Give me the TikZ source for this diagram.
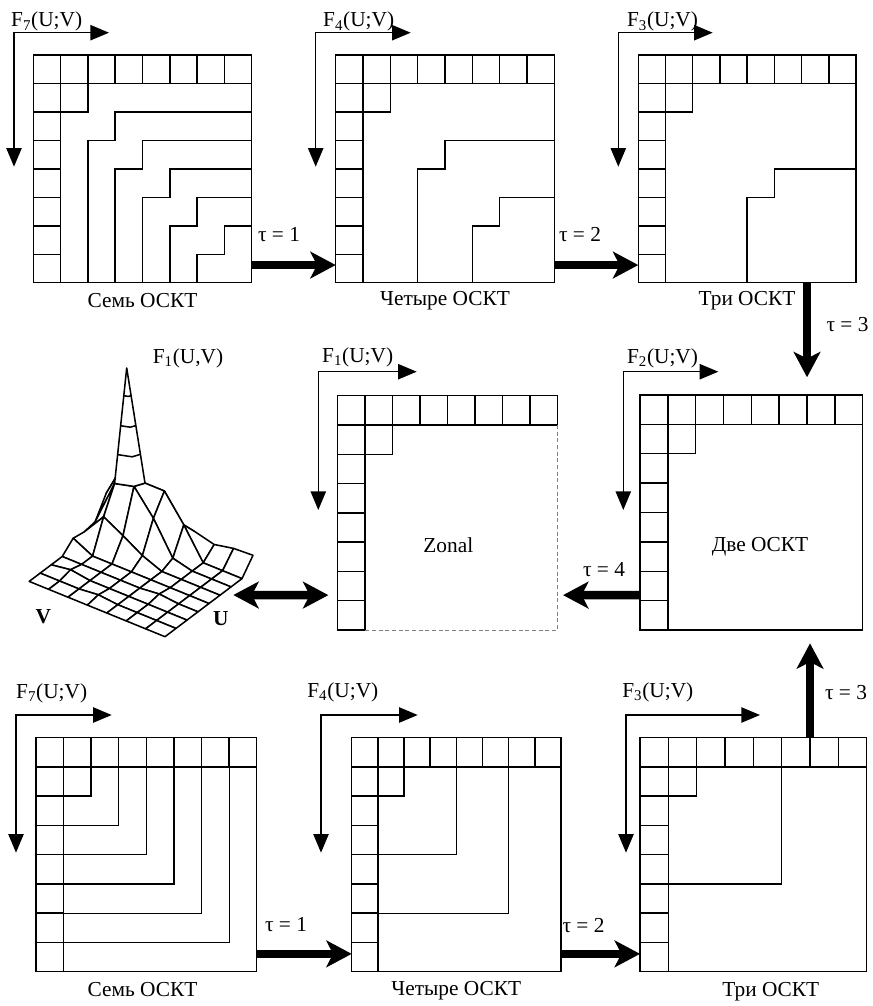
\documentclass[tikz,border=0pt]{standalone}
\usepackage{fontspec}
\setmainfont{Liberation Serif}
\usetikzlibrary{arrows.meta,calc}
\newcommand\mkgrid[5]{%
  \foreach \i in {0,...,8}{\foreach \j in {0,...,8}{%
    \coordinate (#1-\i-\j) at ({#2+\i*(#4-#2)/8},{#3+\j*(#5-#3)/8});}}%
}
\newcommand\gridbase[1]{%
  \draw[gridline] (#1-0-1) -- (#1-8-1) (#1-1-0) -- (#1-1-8) (#1-2-1) -- (#1-2-2) -- (#1-1-2);
  \foreach \k in {1,...,7}{\draw[gridline] (#1-\k-0) -- (#1-\k-1);}
  \foreach \k in {2,...,7}{\draw[gridline] (#1-0-\k) -- (#1-1-\k);}
}
\newcommand\frameall[1]{\draw[gridline] (#1-0-0) rectangle (#1-8-8);}
\newcommand\stair[2]{%
  \pgfmathtruncatemacro\ka{#2+1}\pgfmathtruncatemacro\kb{#2+2}%
  \draw[gridline] (#1-8-\ka) -- (#1-\kb-\ka) -- (#1-\kb-\kb) -- (#1-\ka-\kb) -- (#1-\ka-8);}
\newcommand\elbow[2]{%
  \pgfmathtruncatemacro\ka{#2+1}%
  \draw[thinline] (#1-\ka-1) -- (#1-\ka-\ka) -- (#1-1-\ka);}
\begin{document}
\begin{tikzpicture}[x=0.75pt,y=-0.75pt,
  gridline/.style={line width=1.1pt},
  thinline/.style={line width=0.85pt},
  zonedash/.style={line width=0.75pt, draw=black!50, dash pattern=on 3pt off 2pt},
  axisarrow/.style={line width=1.05pt, {Triangle[length=14pt,width=11.5pt]}-{Triangle[length=14pt,width=11.5pt]}},
  bigarrow/.style={line width=6.4pt, -{Stealth[length=19pt,width=20pt,inset=5pt]}},
  dblarrow/.style={line width=6.4pt, {Stealth[length=19pt,width=20pt,inset=5pt]}-{Stealth[length=19pt,width=20pt,inset=5pt]}},
  lbl/.style={font=\fontsize{16}{19}\selectfont, inner sep=0pt},
  meshline/.style={line width=1.15pt, line join=round, fill=white},
]
\useasboundingbox (0,0) rectangle (873,1006);

% ---------- grids ----------
\mkgrid{ga}{33.3}{55}{251.7}{282.7}
\mkgrid{gb}{335.7}{55}{554.3}{282.7}
\mkgrid{gc}{638.3}{55}{856}{282.7}
\mkgrid{zo}{337.7}{395.7}{557.7}{630}
\mkgrid{dv}{640}{395}{862.7}{630}
\mkgrid{gd}{36}{737.7}{256.7}{971.7}
\mkgrid{ge}{351.7}{737.7}{561}{971.7}
\mkgrid{gf}{640}{737.7}{866.7}{971.7}

\frameall{ga}\gridbase{ga}
\foreach \k in {1,...,5}{\stair{ga}{\k}}
\frameall{gb}\gridbase{gb}
\stair{gb}{2}\stair{gb}{4}
\frameall{gc}\gridbase{gc}
\stair{gc}{3}

\gridbase{zo}
\draw[gridline] (zo-1-8) -- (zo-0-8) -- (zo-0-0) -- (zo-8-0) -- (zo-8-1);
\draw[zonedash] (zo-8-1) -- (zo-8-8) -- (zo-1-8);
\frameall{dv}\gridbase{dv}

\frameall{gd}\gridbase{gd}
\foreach \k in {2,...,6}{\elbow{gd}{\k}}
\frameall{ge}\gridbase{ge}
\elbow{ge}{3}\elbow{ge}{5}
\frameall{gf}\gridbase{gf}
\elbow{gf}{4}

% ---------- axes ----------
\coordinate (axa) at (14,32.7);    \coordinate (axa-h) at (109,32.7);   \coordinate (axa-v) at (14,166.7);
\coordinate (axb) at (315.7,32.7); \coordinate (axb-h) at (410.7,32.7); \coordinate (axb-v) at (315.7,166.7);
\coordinate (axc) at (618.3,32.7); \coordinate (axc-h) at (712.7,32.7); \coordinate (axc-v) at (618.3,166.7);
\coordinate (axz) at (318.3,371.7); \coordinate (axz-h) at (416.7,371.7); \coordinate (axz-v) at (318.3,510);
\coordinate (axv) at (623.3,371.7); \coordinate (axv-h) at (718.3,371.7); \coordinate (axv-v) at (623.3,510);
\coordinate (axd) at (16,715);     \coordinate (axd-h) at (111.7,715);  \coordinate (axd-v) at (16,852.7);
\coordinate (axe) at (321,715);    \coordinate (axe-h) at (417.7,715);  \coordinate (axe-v) at (321,852.7);
\coordinate (axf) at (626,715);    \coordinate (axf-h) at (760,715);    \coordinate (axf-v) at (626,852.7);
\foreach \a in {axa,axb,axc,axz,axv,axd,axe,axf}{\draw[axisarrow] (\a-v) -- (\a) -- (\a-h);}

\node[lbl] (fa) at (46.7,21.5) {F\textsubscript{7}(U;V)};
\node[lbl] (fb) at (358.7,21.5) {F\textsubscript{4}(U;V)};
\node[lbl] (fc) at (662.5,21.5) {F\textsubscript{3}(U;V)};
\node[lbl] (fz) at (357.7,357) {F\textsubscript{1}(U;V)};
\node[lbl] (fv) at (662.5,358) {F\textsubscript{2}(U;V)};
\node[lbl] (fd) at (51.7,693) {F\textsubscript{7}(U;V)};
\node[lbl] (fe) at (342.8,692) {F\textsubscript{4}(U;V)};
\node[lbl] (ff) at (657.8,692) {F\textsubscript{3}(U;V)};

% ---------- captions ----------
\node[lbl] (ca) at (142.5,301) {Семь ОСКТ};
\node[lbl] (cb) at (445,301) {Четыре ОСКТ};
\node[lbl] (cc) at (747,301) {Три ОСКТ};
\node[lbl] (cz) at (448.3,545) {Zonal};
\node[lbl] (cv) at (760,546.7) {Две ОСКТ};
\node[lbl] (cd) at (142.5,990) {Семь ОСКТ};
\node[lbl] (ce) at (456.3,991) {Четыре ОСКТ};
\node[lbl] (cf) at (770.8,992) {Три ОСКТ};

% ---------- thick arrows ----------
\draw[bigarrow] ($(ga-8-7)!0.38!(ga-8-8)$) -- ($(gb-0-7)!0.38!(gb-0-8)$);
\draw[bigarrow] ($(gb-8-7)!0.38!(gb-8-8)$) -- ($(gc-0-7)!0.38!(gc-0-8)$);
\draw[bigarrow, shorten >=13.3pt] (dv-6-0 |- gc-0-8) -- (dv-6-0);
\draw[bigarrow, shorten >=4pt] ($(dv-0-6)!0.81!(dv-0-7)$) -- ($(zo-8-6)!0.81!(zo-8-7)$);
\coordinate (sfR) at (233.3,595);
\draw[dblarrow, shorten >=7pt] (sfR) -- ($(zo-0-6)!0.81!(zo-0-7)$);
\draw[bigarrow, shorten >=10pt] (gf-6-0) -- (gf-6-0 |- dv-6-8);
\draw[bigarrow] ($(gd-8-7)!0.39!(gd-8-8)$) -- ($(ge-0-7)!0.39!(ge-0-8)$);
\draw[bigarrow] ($(ge-8-7)!0.39!(ge-8-8)$) -- ($(gf-0-7)!0.39!(gf-0-8)$);

\node[lbl] (t1) at (279,235) {τ = 1};
\node[lbl] (t2) at (580,235) {τ = 2};
\node[lbl] (t3) at (847.5,325) {τ = 3};
\node[lbl] (t4) at (604,570) {τ = 4};
\node[lbl] (t5) at (846,693) {τ = 3};
\node[lbl] (t6) at (286,925) {τ = 1};
\node[lbl] (t7) at (583.5,926) {τ = 2};

% ---------- surface ----------
\foreach \i in {0,...,8}{\foreach \j in {0,...,7}{%
  \coordinate (m-\i-\j) at ({165+11*\i-19.4*\j},{636.7-8.3*\i-7.9*\j});}}
\foreach \i/\j/\h in {8/0/15,8/1/14,8/2/10,8/3/15,8/4/12,8/5/22,8/6/45,8/7/40,
  7/7/30,6/7/10,5/7/8,4/7/10,7/6/70,7/5/56,7/4/56,7/3/30,6/6/56,6/5/61,6/4/37,6/3/5,
  5/6/31,5/5/20,5/4/8,2/6/3,1/4/2,3/2/2}{%
  \coordinate (m-\i-\j) at ({165+11*\i-19.4*\j},{636.7-8.3*\i-7.9*\j-\h});}
\foreach \i in {7,...,0}{\foreach \j in {6,...,0}{%
  \pgfmathtruncatemacro\ip{\i+1}\pgfmathtruncatemacro\jp{\j+1}%
  \filldraw[meshline] (m-\i-\j) -- (m-\ip-\j) -- (m-\ip-\jp) -- (m-\i-\jp) -- cycle;}}
\coordinate (spk) at (126.7,368);
\filldraw[meshline] (spk) -- (m-6-6) -- (m-6-5) -- (m-7-5) -- cycle;
\foreach \f in {0.24,0.5,0.75}{%
  \draw[line width=1.15pt, line join=round] ($(spk)!\f!(m-6-6)$) -- ($(spk)!\f!(m-6-5)$) -- ($(spk)!\f!(m-7-5)$);}
\node[lbl] (f1) at (188,358) {F\textsubscript{1}(U,V)};
\node[lbl, font=\fontsize{16}{19}\selectfont\bfseries] (lv) at (43.3,616.7) {V};
\node[lbl, font=\fontsize{16}{19}\selectfont\bfseries] (lu) at (220.7,618.3) {U};
\end{tikzpicture}
\end{document}
